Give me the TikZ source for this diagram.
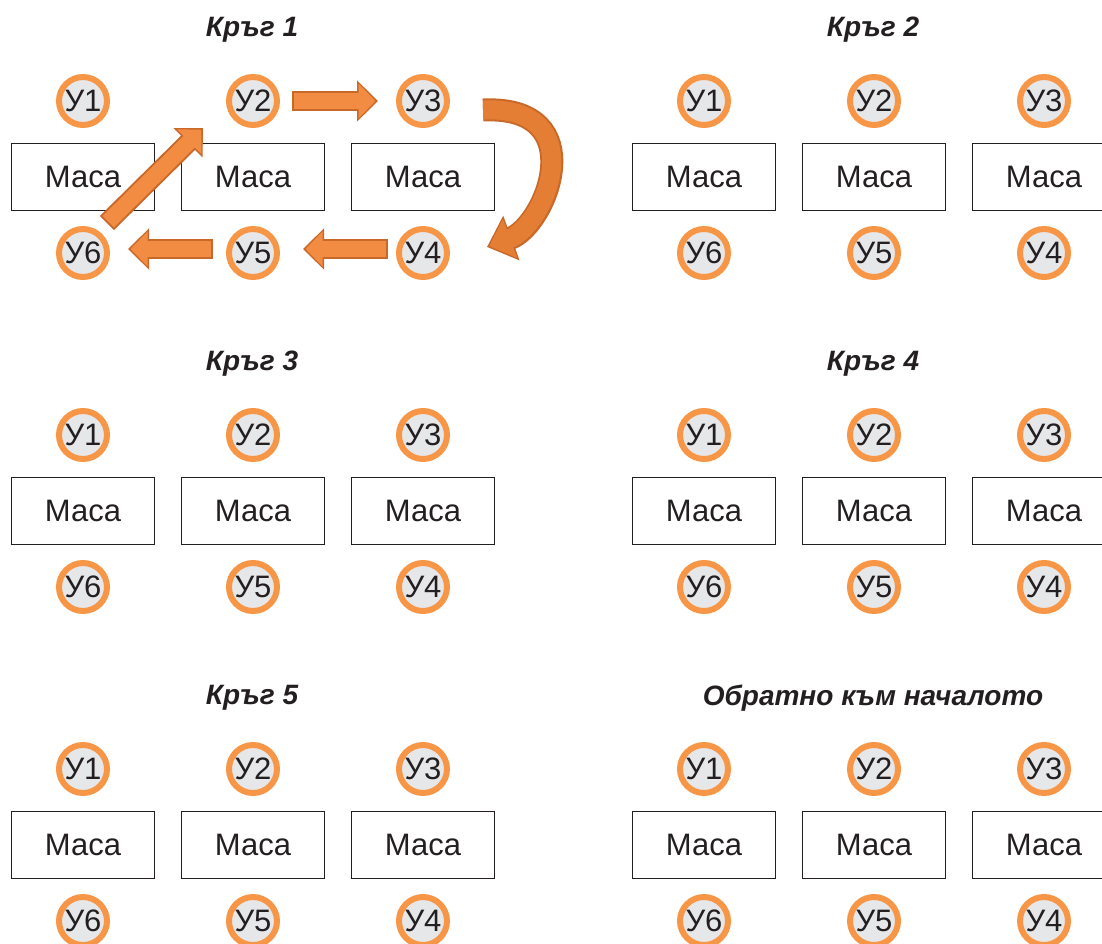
\documentclass[tikz,border=0pt]{standalone}
\usepackage{fontspec}
\setmainfont{Liberation Sans}
\usetikzlibrary{arrows.meta}

\definecolor{seatring}{HTML}{F79646}
\definecolor{seatfill}{HTML}{E6E7E9}
\definecolor{inkdark}{HTML}{231F20}
\definecolor{arrowfill}{HTML}{F38C43}
\definecolor{arrowedge}{HTML}{C8692A}
\definecolor{curvefill}{HTML}{E47E35}

\tikzset{
  seat/.style={circle, draw=seatring, fill=seatfill, line width=6pt,
    minimum size=48pt, inner sep=0pt, text=inkdark,
    font=\fontsize{31}{34}\selectfont},
  tablebox/.style={draw=inkdark, line width=1.5pt, minimum width=143pt,
    minimum height=67pt, inner sep=0pt, text=inkdark,
    font=\fontsize{31}{34}\selectfont},
  roundtitle/.style={inner sep=0pt, text=inkdark,
    font=\fontsize{28}{32}\selectfont\bfseries\itshape},
  blockarrow/.style={draw=arrowfill, line width=16pt, line cap=rect,
    -{Triangle[length=17pt,width=34pt,sep=2.5pt]},
    preaction={draw=arrowedge, line width=20pt, line cap=rect,
      -{Triangle[length=21pt,width=40pt]}}},
  curvearrow/.style={draw=curvefill, line width=19pt,
    -{Triangle[length=22pt,width=40pt,sep=2.5pt]},
    preaction={draw=arrowedge, line width=23pt,
      -{Triangle[length=26pt,width=46pt]}}}
}

\begin{document}
\begin{tikzpicture}[x=1pt, y=-1pt]
\useasboundingbox (0,0) rectangle (1102,944);
% six rounds: two columns, three rows
\foreach \p/\px/\py/\ttl in {1/0/0/Кръг 1, 2/621/0/Кръг 2,
    3/0/334/Кръг 3, 4/621/334/Кръг 4,
    5/0/668/Кръг 5, 6/621/668/Обратно към началото} {
  \node[roundtitle] (t\p) at (\px+252,\py+30) {\ttl};
  \foreach \i/\j/\dx in {1/6/83, 2/5/253, 3/4/423} {
    \node[seat] (p\p-u\i) at (\px+\dx,\py+101) {У\i};
    \node[tablebox] (p\p-m\i) at (\px+\dx,\py+177) {Маса};
    \node[seat] (p\p-u\j) at (\px+\dx,\py+253) {У\j};
  }
}
% moves in round 1
\draw[blockarrow, shorten <=22pt, shorten >=18pt] (p1-u2) -- (p1-u3);
\draw[curvearrow] ([shift={(33,9)}]p1-u3.east)
  .. controls +(110,-5) and +(60,-22) .. ([shift={(37,-6)}]p1-u4.east);
\draw[blockarrow, shorten <=18pt, shorten >=23pt]
  ([yshift=4pt]p1-u4.west) -- ([yshift=4pt]p1-u5.east);
\draw[blockarrow, shorten <=23pt, shorten >=18pt]
  ([yshift=4pt]p1-u5.west) -- ([yshift=4pt]p1-u6.east);
\draw[blockarrow] ([shift={(31,-37)}]p1-u6.center)
  -- ([shift={(-50,27)}]p1-u2.center);
\end{tikzpicture}
\end{document}
